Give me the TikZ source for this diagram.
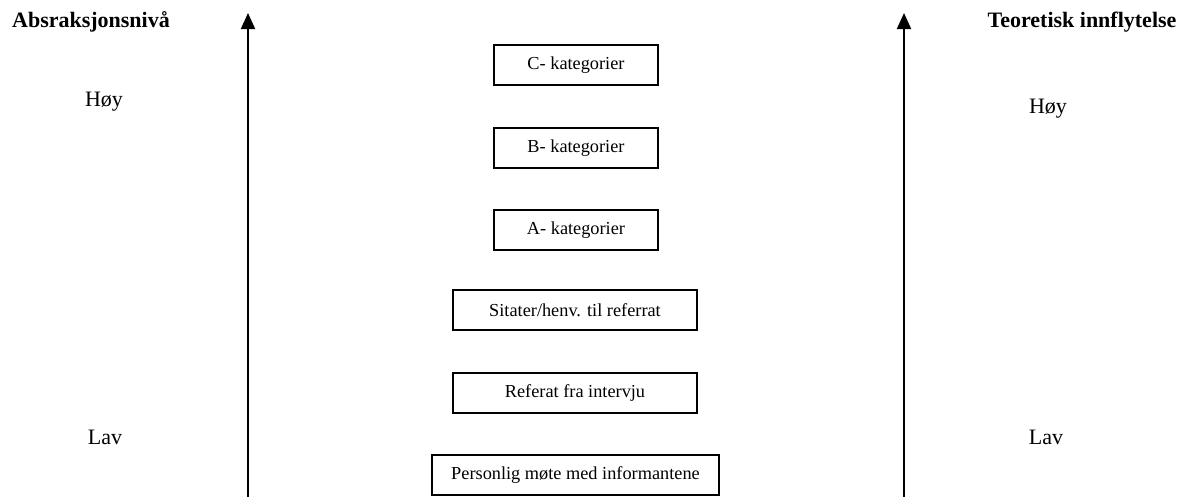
\documentclass[tikz,border=0pt]{standalone}
\usepackage{fontspec}
\setmainfont{Liberation Serif}
\usetikzlibrary{arrows.meta}
\begin{document}
\begin{tikzpicture}[x=1pt,y=-1pt,
  box/.style={draw,line width=1.1pt,minimum height=40pt,inner sep=0pt,font=\fontsize{18.3}{20}\selectfont},
  lbl/.style={font=\fontsize{22}{24}\selectfont,inner sep=0pt},
  ttl/.style={font=\bfseries\fontsize{22}{24}\selectfont,inner sep=0pt},
  axis/.style={line width=2pt,-{Triangle[length=16pt,width=14pt]}}]
\useasboundingbox (0,0) rectangle (1185,496);
\node[box,minimum width=164pt] (c) at (576,65) {C- kategorier};
\node[box,minimum width=164pt] (b) at (576,148) {B- kategorier};
\node[box,minimum width=164pt] (a) at (576,230) {A- kategorier};
\node[box,minimum width=244pt] (s) at (575,310) {Sitater/henv. til referrat};
\node[box,minimum width=244pt] (r) at (575,393) {Referat fra intervju};
\node[box,minimum width=287pt] (p) at (575.5,475) {Personlig møte med informantene};
\node[ttl] (t1) at (91,22) {Absraksjonsnivå};
\node[ttl] (t2) at (1082,22) {Teoretisk innflytelse};
\node[lbl] (h1) at (104,102) {Høy};
\node[lbl] (l1) at (105,437) {Lav};
\node[lbl] (h2) at (1048,109) {Høy};
\node[lbl] (l2) at (1046,437) {Lav};
\coordinate (a1s) at (248,497);
\coordinate (a1e) at (248,13);
\coordinate (a2s) at (904,497);
\coordinate (a2e) at (904,13);
\draw[axis] (a1s) -- (a1e);
\draw[axis] (a2s) -- (a2e);
\end{tikzpicture}
\end{document}
